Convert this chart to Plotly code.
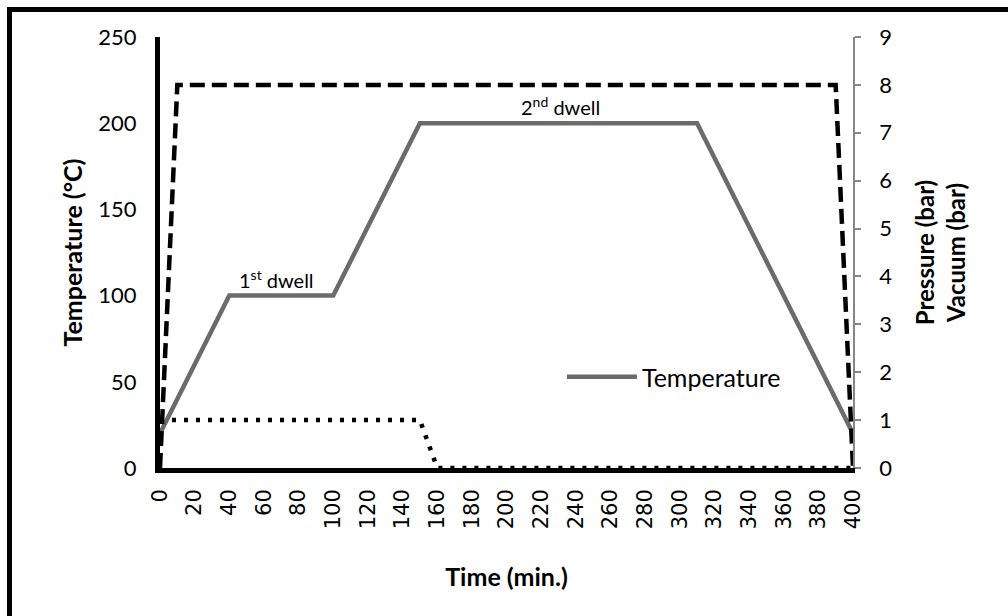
import plotly.graph_objects as go

# Cure cycle profile: time in minutes
temp_time = [0, 40, 100, 150, 310, 400]
temp_values = [20, 100, 100, 200, 200, 20]          # °C

pressure_time = [0, 10, 390, 400]
pressure_values = [0, 8, 8, 0]                       # bar

vacuum_time = [0, 150, 160, 400]
vacuum_values = [1, 1, 0, 0]                         # bar

x_ticks = list(range(0, 401, 20))
left_ticks = [0, 50, 100, 150, 200, 250]
right_ticks = list(range(0, 10))

FONT = "Lato"

fig = go.Figure()

fig.add_trace(go.Scatter(
    x=pressure_time, y=pressure_values, yaxis="y2", mode="lines",
    line=dict(color="black", width=4.5, dash="15px,7px"),
    name="Pressure", showlegend=False,
))
fig.add_trace(go.Scatter(
    x=vacuum_time, y=vacuum_values, yaxis="y2", mode="lines",
    line=dict(color="black", width=4.5, dash="4px,8px"),
    name="Vacuum", showlegend=False,
))
fig.add_trace(go.Scatter(
    x=temp_time, y=temp_values, mode="lines",
    line=dict(color="#6b6b6b", width=4.5),
    name="Temperature",
))

fig.update_layout(
    width=1008, height=616,
    margin=dict(l=160, r=155, t=37, b=148),
    paper_bgcolor="white", plot_bgcolor="white",
    font=dict(family=FONT, size=22, color="black"),
    xaxis=dict(
        range=[0, 400], tickvals=x_ticks, ticktext=[str(v) for v in x_ticks],
        tickangle=-90, showgrid=False, zeroline=False,
        showline=True, linecolor="black", linewidth=4.5,
        ticks="", ticklabelstandoff=8,
        tickfont=dict(family="DejaVu Sans", size=21),
        title=dict(text="<b>Time (min.)</b>", font=dict(size=25), standoff=42),
    ),
    yaxis=dict(
        range=[0, 250], tickvals=left_ticks, showgrid=False, zeroline=False,
        showline=True, linecolor="black", linewidth=5, ticks="",
        ticklabelstandoff=14,
        title=dict(text="<b>Temperature (°C)</b>", font=dict(size=25), standoff=10),
    ),
    yaxis2=dict(
        range=[0, 9], tickvals=right_ticks, overlaying="y", side="right",
        showgrid=False, zeroline=False, showline=True,
        linecolor="#868686", linewidth=1.5,
        ticks="outside", ticklen=6, tickcolor="#868686", tickwidth=1.5,
        ticklabelstandoff=14,
        title=dict(text="<b>Pressure (bar)<br>Vacuum (bar)</b>", font=dict(size=24), standoff=26),
    ),
    legend=dict(
        x=0.58, y=0.211, xanchor="left", yanchor="middle",
        bgcolor="rgba(0,0,0,0)", itemwidth=70,
        font=dict(size=25),
    ),
    annotations=[
        dict(x=67, y=100, xref="x", yref="y", text="1<sup>st</sup> dwell",
             showarrow=False, yanchor="bottom", yshift=2, font=dict(size=20)),
        dict(x=231, y=200, xref="x", yref="y", text="2<sup>nd</sup> dwell",
             showarrow=False, yanchor="bottom", yshift=2, font=dict(size=20)),
    ],
    shapes=[
        dict(type="rect", xref="paper", yref="paper",
             x0=-0.2172, x1=1.4, y0=-0.6, y1=1.0638,
             line=dict(color="black", width=5), fillcolor="rgba(0,0,0,0)",
             layer="above"),
    ],
)

fig.write_html("out.html")
